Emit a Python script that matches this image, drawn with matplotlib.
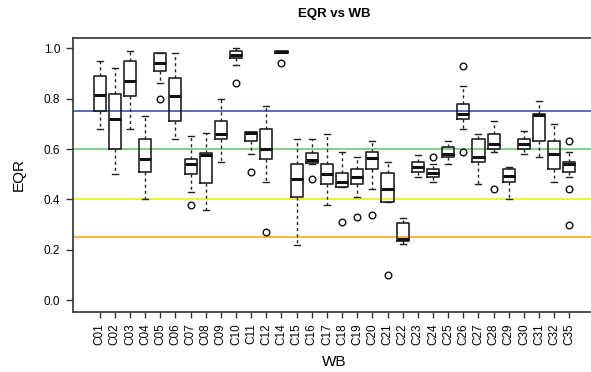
import matplotlib
matplotlib.use("Agg")
import matplotlib.pyplot as plt

plt.rcParams['font.family'] = ['Liberation Sans', 'DejaVu Sans']

labels = ["C01", "C02", "C03", "C04", "C05", "C06", "C07", "C08", "C09", "C10",
          "C11", "C12", "C14", "C15", "C16", "C17", "C18", "C19", "C20", "C21",
          "C22", "C23", "C24", "C25", "C26", "C27", "C28", "C29", "C30", "C31",
          "C32", "C35"]
whislo = [0.68, 0.50, 0.68, 0.40, 0.86, 0.64, 0.43, 0.36, 0.55, 0.935,
          0.58, 0.47, 0.985, 0.22, 0.54, 0.38, 0.45, 0.41, 0.44, 0.39,
          0.225, 0.49, 0.47, 0.54, 0.68, 0.46, 0.59, 0.40, 0.58, 0.57,
          0.47, 0.49]
q1 = [0.75, 0.60, 0.81, 0.51, 0.91, 0.71, 0.50, 0.467, 0.64, 0.96,
      0.63, 0.56, 0.981, 0.41, 0.546, 0.46, 0.45, 0.46, 0.52, 0.39,
      0.235, 0.51, 0.49, 0.57, 0.72, 0.55, 0.60, 0.47, 0.60, 0.63,
      0.52, 0.51]
med = [0.815, 0.72, 0.87, 0.56, 0.94, 0.81, 0.54, 0.575, 0.66, 0.972,
       0.665, 0.60, 0.985, 0.48, 0.556, 0.50, 0.47, 0.49, 0.565, 0.44,
       0.245, 0.53, 0.505, 0.58, 0.74, 0.567, 0.62, 0.495, 0.62, 0.735,
       0.58, 0.54]
q3 = [0.89, 0.82, 0.95, 0.64, 0.98, 0.88, 0.56, 0.586, 0.71, 0.988,
      0.668, 0.68, 0.988, 0.54, 0.586, 0.54, 0.505, 0.52, 0.59, 0.505,
      0.305, 0.55, 0.52, 0.61, 0.78, 0.64, 0.66, 0.52, 0.64, 0.74,
      0.63, 0.55]
whishi = [0.95, 0.92, 0.99, 0.73, 0.98, 0.98, 0.65, 0.665, 0.80, 1.0,
          0.668, 0.77, 0.988, 0.64, 0.64, 0.66, 0.59, 0.57, 0.63, 0.55,
          0.325, 0.575, 0.54, 0.63, 0.85, 0.66, 0.71, 0.53, 0.67, 0.79,
          0.70, 0.59]
outliers = [[], [], [], [], [0.80], [], [0.38], [], [], [0.86],
            [0.51], [0.27], [0.94], [], [0.48], [], [0.31], [0.33], [0.34], [0.10],
            [], [], [0.57], [], [0.93, 0.59], [], [0.44], [], [], [],
            [], [0.63, 0.44, 0.30]]

ref_values = [0.75, 0.6, 0.4, 0.25]
ref_colors = ['#2c44a0', '#60c460', '#ecec00', '#ffa200']

stats = []
for i in range(len(labels)):
    stats.append(dict(label=labels[i], whislo=whislo[i], q1=q1[i], med=med[i],
                      q3=q3[i], whishi=whishi[i], fliers=outliers[i]))

fig = plt.figure(figsize=(5.91, 3.72), dpi=100)
# right edge of the plot box falls just outside the picture, as in the original
ax = fig.add_axes([0.123, 0.162, 0.886, 0.737])

for v, c in zip(ref_values, ref_colors):
    ax.axhline(v, color=c, linewidth=1.1, zorder=1)

ax.bxp(stats, positions=range(1, len(labels) + 1), widths=0.8,
       capwidths=0.4, patch_artist=False,
       boxprops=dict(color='#222222', linewidth=1.2),
       medianprops=dict(color='#111111', linewidth=2.2),
       whiskerprops=dict(color='#222222', linewidth=1.0, linestyle=(0, (2.2, 2.2))),
       capprops=dict(color='#222222', linewidth=1.0),
       flierprops=dict(marker='o', markerfacecolor='none', markeredgecolor='#111111',
                       markersize=4.8, markeredgewidth=1.0))

ax.set_xlim(-0.78, 33.78)
ax.set_ylim(-0.045, 1.042)
ax.set_yticks([0.0, 0.2, 0.4, 0.6, 0.8, 1.0])
ax.set_yticklabels(["0.0", "0.2", "0.4", "0.6", "0.8", "1.0"])
ax.set_xticks(range(1, len(labels) + 1))
ax.set_xticklabels(labels, rotation=90)

ax.tick_params(axis='y', length=5, width=1.0, pad=4, labelsize=8.5, color='#333333')
ax.tick_params(axis='x', length=4.5, width=1.0, pad=4, labelsize=8.5, color='#333333')
for s in ax.spines.values():
    s.set_linewidth(1.2)
    s.set_color('#333333')

ax.set_title("EQR vs WB", fontsize=9.5, fontweight='bold', pad=15)
ax.set_ylabel("EQR", fontsize=11, labelpad=13)
ax.set_xlabel("WB", fontsize=11, labelpad=7)

fig.savefig("out.png", dpi=100)
